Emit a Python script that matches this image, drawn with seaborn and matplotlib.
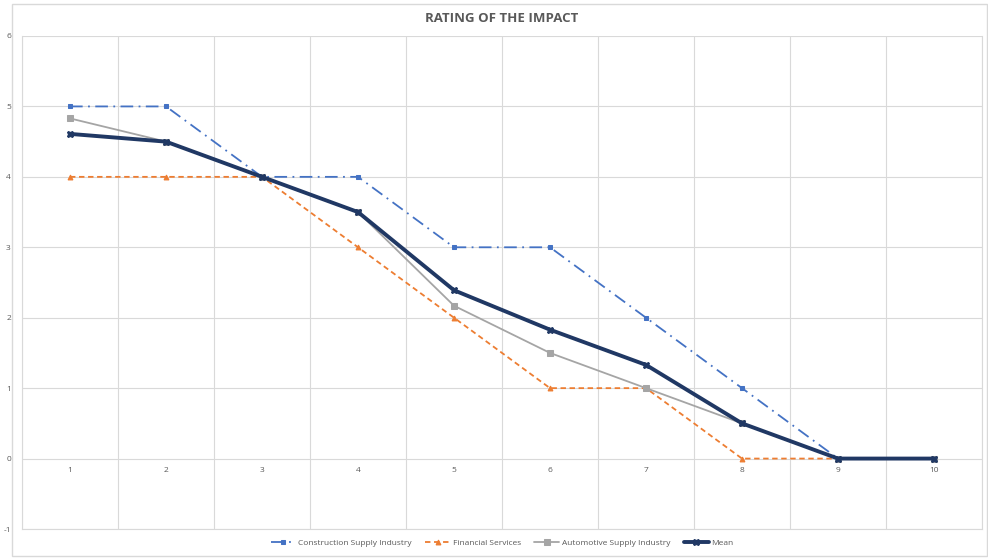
import numpy as np
import pandas as pd
import seaborn as sns
import matplotlib.pyplot as plt

# chart data
points = [1, 2, 3, 4, 5, 6, 7, 8, 9, 10]
construction = [5, 5, 4, 4, 3, 3, 2, 1, 0, 0]
financial = [4, 4, 4, 3, 2, 1, 1, 0, 0, 0]
automotive = [4.83, 4.5, 4, 3.5, 2.17, 1.5, 1, 0.5, 0, 0]
mean = [4.61, 4.5, 4, 3.5, 2.39, 1.83, 1.33, 0.5, 0, 0]

sns.set_style("white")
plt.rcParams['font.family'] = ['Open Sans', 'DejaVu Sans']
plt.rcParams['axes.unicode_minus'] = False

fig = plt.figure(figsize=(9.88, 5.6), dpi=100)
ax = fig.add_axes([22 / 988, 31 / 560, 960 / 988, 493 / 560])

# outer chart border
fig.patches.append(plt.Rectangle((12 / 988, 4 / 560), 975 / 988, 552 / 560,
                                 transform=fig.transFigure, fill=False,
                                 edgecolor='#d9d9d9', linewidth=1))

series = [
    ('Construction Supply Industry', construction, '#4472C4', (0, (7, 3, 1, 3)), 's', 1.3, 3.5),
    ('Financial Services', financial, '#ED7D31', (0, (3, 2)), '^', 1.3, 3.5),
    ('Automotive Supply Industry', automotive, '#A5A5A5', '-', 's', 1.3, 4),
    ('Mean', mean, '#203864', '-', 'X', 2.8, 4.5),
]

for name, vals, col, ls, mk, lw, ms in series:
    df = pd.DataFrame({'x': points, 'y': vals})
    sns.lineplot(data=df, x='x', y='y', ax=ax, color=col, linestyle=ls,
                 marker=mk, markersize=ms, linewidth=lw, label=name,
                 markeredgecolor=col, zorder=3)

ax.set_xlim(0.5, 10.5)
ax.set_ylim(-1, 6)
ax.set_xticks(np.arange(0.5, 11, 1))
ax.set_xticklabels([])
ax.set_yticks(range(-1, 7))
ax.grid(True, color='#d9d9d9', linewidth=0.8)
ax.tick_params(axis='y', labelsize=6, colors='#595959', length=0, pad=8)
ax.tick_params(axis='x', length=0)
for s in ax.spines.values():
    s.set_color('#d9d9d9')
    s.set_linewidth(0.8)
ax.spines['top'].set_visible(False)
ax.set_xlabel('')
ax.set_ylabel('')

# category labels along the zero line
for p in points:
    ax.text(p, -0.12, str(p), ha='center', va='top', fontsize=6, color='#595959')

ax.set_title('RATING OF THE IMPACT', fontsize=9.5, fontweight='bold',
             color='#595959', pad=10)

ax.legend(loc='upper center', bbox_to_anchor=(0.5, -0.005), ncol=4,
          frameon=False, fontsize=6, handlelength=3, columnspacing=1.6,
          handletextpad=0.3, labelcolor='#595959')

fig.savefig('out.png', dpi=100)
